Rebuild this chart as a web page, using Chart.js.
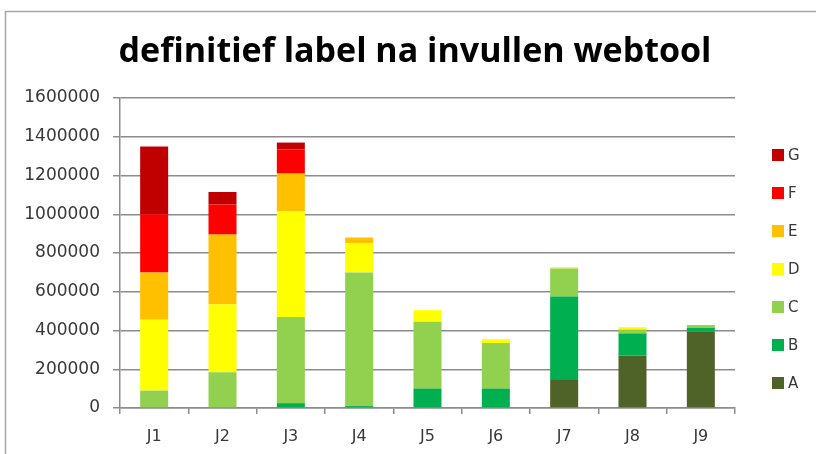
<!DOCTYPE html>
<html>
<head>
<meta charset="utf-8">
<script src="https://cdn.jsdelivr.net/npm/chart.js@4/dist/chart.umd.min.js"></script>
<style>
  html, body { margin: 0; padding: 0; background: #ffffff; }
  #wrap { width: 816px; height: 454px; position: relative; }
</style>
</head>
<body>
<div id="wrap"><canvas id="c" width="816" height="454"></canvas></div>
<script>
const categories = ['J1', 'J2', 'J3', 'J4', 'J5', 'J6', 'J7', 'J8', 'J9'];
const seriesNames = ['A', 'B', 'C', 'D', 'E', 'F', 'G'];
const seriesA = [0, 0, 0, 0, 0, 0, 145000, 270000, 395000];
const seriesB = [0, 0, 25000, 10000, 100000, 100000, 430000, 115000, 18000];
const seriesC = [90000, 185000, 445000, 690000, 345000, 235000, 145000, 20000, 15000];
const seriesD = [365000, 350000, 545000, 150000, 60000, 20000, 7000, 12000, 0];
const seriesE = [245000, 360000, 195000, 30000, 0, 0, 0, 0, 0];
const seriesF = [300000, 155000, 125000, 0, 0, 0, 0, 0, 0];
const seriesG = [350000, 65000, 35000, 0, 0, 0, 0, 0, 0];
const yTicks = [0, 200000, 400000, 600000, 800000, 1000000, 1200000, 1400000, 1600000];
const titleText = 'definitief label na invullen webtool';

const seriesValues = [seriesA, seriesB, seriesC, seriesD, seriesE, seriesF, seriesG];
const seriesColors = ['#4F6228', '#00B050', '#92D050', '#FFFF00', '#FFC000', '#FF0000', '#C00000'];

const datasets = seriesNames.map((name, i) => ({
  label: name,
  data: seriesValues[i],
  backgroundColor: seriesColors[i],
  borderWidth: 0,
  stack: 's',
  barPercentage: 0.41,
  categoryPercentage: 1.0
}));

const frame = {
  id: 'frame',
  beforeDraw(chart) {
    const ctx = chart.ctx;
    ctx.save();
    ctx.fillStyle = '#ffffff';
    ctx.fillRect(0, 0, chart.width, chart.height);
    ctx.strokeStyle = '#a6a6a6';
    ctx.lineWidth = 1.5;
    ctx.beginPath();
    ctx.moveTo(5.5, chart.height + 2);
    ctx.lineTo(5.5, 11.5);
    ctx.lineTo(chart.width + 2, 11.5);
    ctx.stroke();
    ctx.restore();
  }
};

const chartTitle = {
  id: 'chartTitle',
  afterDraw(chart, args, opts) {
    const ctx = chart.ctx;
    ctx.save();
    ctx.font = 'bold 34px "Open Sans"';
    ctx.fillStyle = '#000000';
    ctx.textAlign = 'center';
    ctx.textBaseline = 'alphabetic';
    ctx.fillText(opts.text, 415, 62);
    ctx.restore();
  }
};

const sideLegend = {
  id: 'sideLegend',
  afterDraw(chart) {
    const ctx = chart.ctx;
    const ds = chart.data.datasets;
    ctx.save();
    ctx.font = '15px "DejaVu Sans"';
    ctx.textBaseline = 'middle';
    ctx.textAlign = 'left';
    const n = ds.length;
    for (let k = 0; k < n; k++) {
      const d = ds[n - 1 - k];
      const yc = 155 + k * 38;
      ctx.fillStyle = d.backgroundColor;
      ctx.fillRect(772, yc - 6, 12, 12);
      ctx.fillStyle = '#383838';
      ctx.fillText(d.label, 788, yc + 1);
    }
    ctx.restore();
  }
};

function draw() {
  new Chart(document.getElementById('c'), {
    type: 'bar',
    data: { labels: categories, datasets: datasets },
    plugins: [frame, chartTitle, sideLegend],
    options: {
      responsive: false,
      animation: false,
      devicePixelRatio: 1,
      layout: { padding: { left: 0, right: 81, top: 98, bottom: 0 } },
      plugins: {
        legend: { display: false },
        tooltip: { enabled: false },
        title: { display: false },
        chartTitle: { text: titleText }
      },
      scales: {
        x: {
          stacked: true,
          afterFit(scale) { scale.height = 46; },
          border: { display: true, color: '#8c8c8c', width: 1.5 },
          grid: { drawOnChartArea: false, drawTicks: true, tickLength: 6, color: '#8c8c8c', lineWidth: 1.5, offset: true },
          ticks: { color: '#383838', font: { family: '"DejaVu Sans"', size: 16 }, padding: 13 }
        },
        y: {
          stacked: true,
          min: 0,
          max: 1600000,
          afterFit(scale) { scale.width = 120; },
          afterBuildTicks(scale) { scale.ticks = yTicks.map(v => ({ value: v })); },
          border: { display: true, color: '#8c8c8c', width: 1.5 },
          grid: { color: '#8c8c8c', lineWidth: 1.5, drawTicks: true, tickLength: 7 },
          ticks: {
            color: '#383838',
            font: { family: '"DejaVu Sans"', size: 17 },
            padding: 13,
            callback: (v) => String(v)
          }
        }
      }
    }
  });
}

Promise.all([
  document.fonts.load('bold 34px "Open Sans"'),
  document.fonts.load('17px "DejaVu Sans"'),
  document.fonts.load('15px "DejaVu Sans"')
]).then(draw, draw);
</script>
</body>
</html>
